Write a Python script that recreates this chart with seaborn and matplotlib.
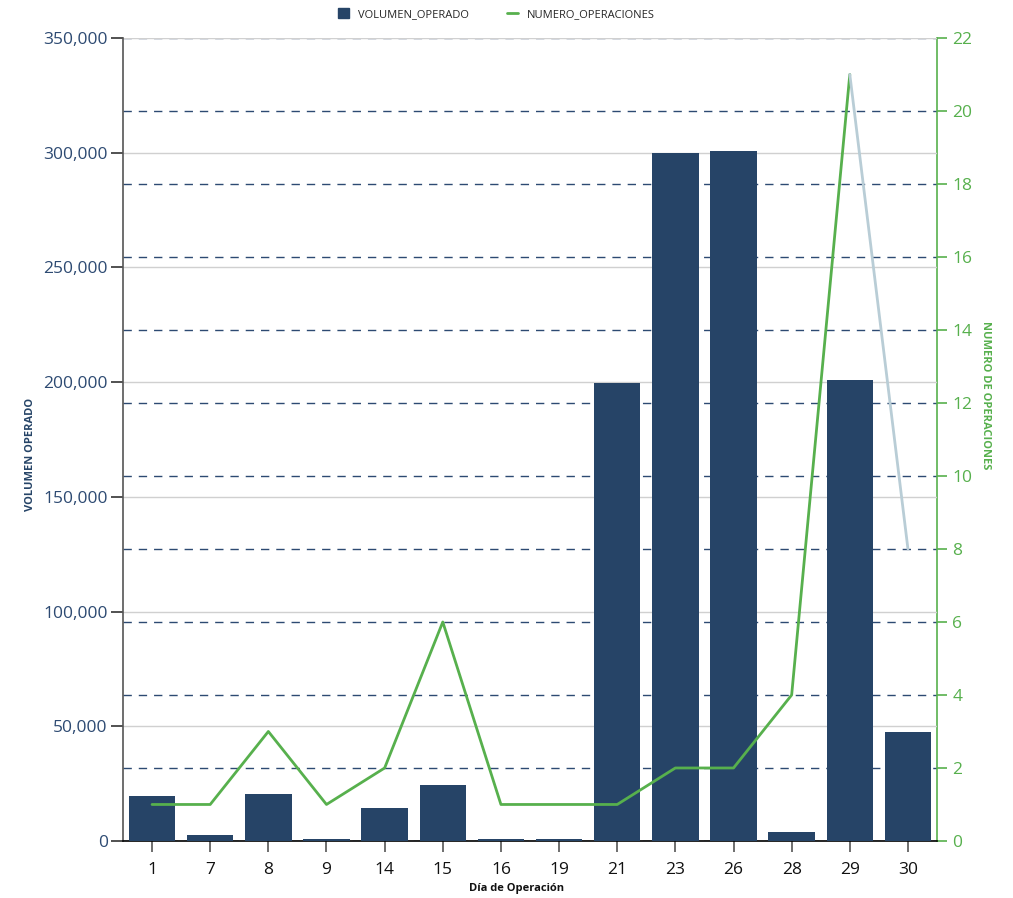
import matplotlib
matplotlib.use("Agg")
import matplotlib.pyplot as plt
import seaborn as sns
import numpy as np
import pandas as pd
from matplotlib.ticker import FuncFormatter, MultipleLocator
from matplotlib.lines import Line2D
from matplotlib.patches import Patch

dias = ["1", "7", "8", "9", "14", "15", "16", "19", "21", "23", "26", "28", "29", "30"]
volumen = [19800, 2700, 20500, 1000, 14500, 24500, 1000, 1000, 199800, 299800, 300800, 3900, 201000, 47500]
operaciones = [1, 1, 3, 1, 2, 6, 1, 1, 1, 2, 2, 4, 21, 8]

NAVY = "#264467"
GREEN = "#57b04d"
GREY_SEG = "#b9cdd6"
TICK_NAVY = "#2d4a72"

sns.set_style("white")
plt.rcParams["font.family"] = ["Open Sans", "DejaVu Sans"]

df = pd.DataFrame({"dia": dias, "volumen": volumen, "ops": operaciones})

fig = plt.figure(figsize=(10.13, 8.98), dpi=100)
ax1 = fig.add_axes([0.1214, 0.0635, 0.8036, 0.8942])
ax2 = ax1.twinx()
ax1.set_zorder(2)
ax1.patch.set_visible(False)
ax2.set_zorder(1)

sns.barplot(data=df, x="dia", y="volumen", color=NAVY, saturation=1, width=0.8,
            linewidth=0, edgecolor=NAVY, ax=ax1, zorder=3)

ax1.set_ylim(0, 350000)
ax2.set_ylim(0, 22)
ax1.set_xlim(-0.5, len(dias) - 0.5)

xpos = np.arange(len(dias))
ax1.plot(xpos[:-1], operaciones[:-1], color=GREEN, lw=2, transform=ax2.transData, zorder=5)
ax1.plot(xpos[-2:], operaciones[-2:], color=GREY_SEG, lw=2, transform=ax2.transData, zorder=5)

ax1.yaxis.set_major_locator(MultipleLocator(50000))
ax2.yaxis.set_major_locator(MultipleLocator(2))
ax1.grid(axis="y", color="#d0d0d0", lw=1, ls="-", zorder=0)
ax1.set_axisbelow(True)
ax2.grid(axis="y", color="#2d4a72", lw=1, ls=(0, (6, 5)))
ax1.grid(axis="x", visible=False)
ax2.grid(axis="x", visible=False)

ax1.yaxis.set_major_formatter(FuncFormatter(lambda v, p: f"{int(v):,}"))

ax1.spines["top"].set_visible(False)
ax2.spines["top"].set_visible(False)
ax1.spines["right"].set_visible(False)
ax2.spines["left"].set_visible(False)
ax2.spines["bottom"].set_visible(False)
ax1.spines["left"].set_color("#555555")
ax1.spines["left"].set_linewidth(1.2)
ax1.spines["bottom"].set_color("#000000")
ax1.spines["bottom"].set_linewidth(1.2)
ax2.spines["right"].set_color(GREEN)
ax2.spines["right"].set_linewidth(1.2)

ax1.tick_params(axis="y", direction="out", length=9, width=1.2, color="#333333",
                labelcolor=TICK_NAVY, labelsize=12.5, left=True, pad=2)
ax1.tick_params(axis="x", direction="out", length=8, width=1.2, color="#555555",
                labelcolor="#111111", labelsize=12.5, bottom=True, pad=7)
ax2.tick_params(axis="y", direction="out", length=7, width=1.2, color=GREEN,
                labelcolor=GREEN, labelsize=12.5, right=True, pad=4)

ax1.set_xlabel("Día de Operación", fontsize=8, fontweight="bold", color="#111111")
ax1.set_ylabel("VOLUMEN OPERADO", fontsize=8, fontweight="bold", color=NAVY)
ax2.set_ylabel("NUMERO DE OPERACIONES", fontsize=8, fontweight="bold", color=GREEN,
               rotation=-90, va="center")
ax1.xaxis.set_label_coords(0.484, -0.052)
ax1.yaxis.set_label_coords(-0.107, 0.481)
ax2.yaxis.set_label_coords(1.059, 0.555)

handles = [Patch(facecolor=NAVY, edgecolor=NAVY), Line2D([0], [0], color=GREEN, lw=2)]
fig.legend(handles, ["VOLUMEN_OPERADO", "NUMERO_OPERACIONES"], loc="center",
           bbox_to_anchor=(0.49, 0.984), ncol=2, frameon=False, fontsize=8,
           handlelength=1.0, handleheight=1.0, columnspacing=3.5, handletextpad=0.8)

fig.savefig("out.png", dpi=100)
